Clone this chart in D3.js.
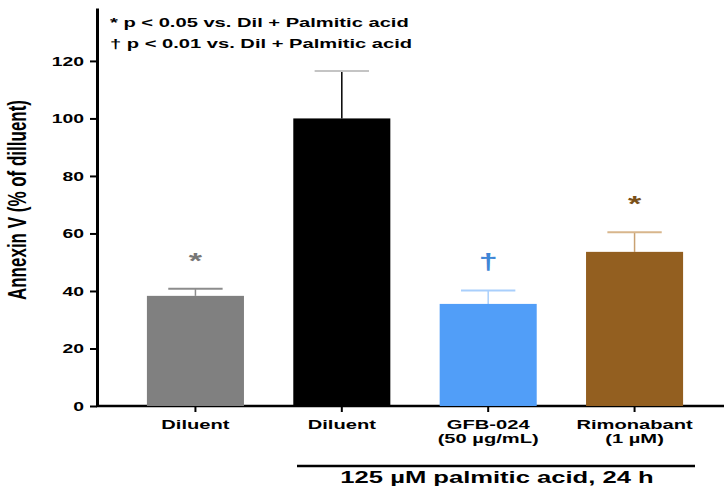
<!DOCTYPE html>
<html>
<head>
<meta charset="utf-8">
<script src="https://cdn.jsdelivr.net/npm/d3@7"></script>
<style>
  body { margin: 0; background: #fff; }
  svg text { font-family: "Liberation Sans", Arial, sans-serif; font-weight: bold; }
</style>
</head>
<body>
<div id="chart"></div>
<script>
// data
var groups = ["Diluent", "Diluent", "GFB-024", "Rimonabant"];
var subLabels = ["", "", "(50 \u00b5g/mL)", "(1 \u00b5M)"];
var means = [38.3, 100, 35.5, 53.6];
var errors = [2.5, 16.5, 4.7, 6.8];
var marks = ["*", "", "\u2020", "*"];
var barColours = ["#808080", "#000000", "#519ef8", "#935f20"];
var errColours = ["#8c8c8c", "#c4c4c4", "#a9cffc", "#d8b68c"];
var stemColours = ["#8c8c8c", "#000000", "#a9cffc", "#c9a172"];
var markColours = ["#767676", "#000000", "#3f86d6", "#7a5018"];
var yTicks = [0, 20, 40, 60, 80, 100, 120];

var W = 724, H = 490;
var K = 1.55; // the figure's text is stretched sideways
var svg = d3.select("#chart").append("svg").attr("width", W).attr("height", H);

var x0 = 97, yZero = 406;
var x = d3.scaleBand().domain(d3.range(groups.length)).range([103, 727]).paddingInner(0.337).paddingOuter(0.3);
var y = d3.scaleLinear().domain([0, 138.4]).range([yZero, 8]);
var cx = function (i) { return x(i) + x.bandwidth() / 2; };

function wideText(px, py, size, str, anchor, k) {
    return svg.append("text")
        .attr("transform", "translate(" + px + "," + py + ") scale(" + (k || K) + ",1)")
        .attr("text-anchor", anchor || "start")
        .attr("font-size", size)
        .text(str);
}

// y axis
var gy = svg.append("g").attr("transform", "translate(" + x0 + ",0)")
    .call(d3.axisLeft(y).tickValues(yTicks).tickSize(7).tickSizeOuter(0));
gy.select(".domain").attr("stroke", "#000").attr("stroke-width", 3);
gy.selectAll(".tick line").attr("stroke", "#000").attr("stroke-width", 2);
gy.selectAll(".tick text").attr("font-size", 12.5).attr("fill", "#000")
    .attr("x", null).attr("dy", "0.36em")
    .attr("transform", "translate(-13,0) scale(" + K + ",1)");

// x axis
svg.append("line").attr("x1", x0 - 1).attr("x2", W).attr("y1", yZero).attr("y2", yZero)
    .attr("stroke", "#000").attr("stroke-width", 2.5);
svg.selectAll(".xtick").data(groups).enter().append("line")
    .attr("x1", function (d, i) { return cx(i); })
    .attr("x2", function (d, i) { return cx(i); })
    .attr("y1", yZero).attr("y2", yZero + 6)
    .attr("stroke", "#000").attr("stroke-width", 2);

// error bars (drawn behind bars)
svg.selectAll(".err").data(means).enter().append("line")
    .attr("x1", function (d, i) { return cx(i); })
    .attr("x2", function (d, i) { return cx(i); })
    .attr("y1", function (d) { return y(d); })
    .attr("y2", function (d, i) { return y(d + errors[i]); })
    .attr("stroke", function (d, i) { return stemColours[i]; })
    .attr("stroke-width", 1.5);
svg.selectAll(".cap").data(means).enter().append("line")
    .attr("x1", function (d, i) { return cx(i) - x.bandwidth() * 0.28; })
    .attr("x2", function (d, i) { return cx(i) + x.bandwidth() * 0.28; })
    .attr("y1", function (d, i) { return y(d + errors[i]); })
    .attr("y2", function (d, i) { return y(d + errors[i]); })
    .attr("stroke", function (d, i) { return errColours[i]; })
    .attr("stroke-width", 2);

// bars
svg.selectAll(".bar").data(means).enter().append("rect")
    .attr("x", function (d, i) { return x(i); })
    .attr("width", x.bandwidth())
    .attr("y", function (d) { return y(d); })
    .attr("height", function (d) { return yZero - y(d); })
    .attr("fill", function (d, i) { return barColours[i]; });

// significance marks
means.forEach(function (d, i) {
    if (!marks[i]) return;
    wideText(cx(i), y(d + errors[i]) - 21, 22, marks[i], "middle")
        .attr("fill", markColours[i]);
});

// category labels
groups.forEach(function (g, i) {
    wideText(cx(i), 429, 13, g, "middle");
    if (subLabels[i]) wideText(cx(i), 443, 13, subLabels[i], "middle");
});

// bracket for the palmitic acid groups
svg.append("line").attr("x1", 297).attr("x2", 695).attr("y1", 466).attr("y2", 466)
    .attr("stroke", "#000").attr("stroke-width", 2.5);
wideText(497, 483, 16, "125 \u00b5M palmitic acid, 24 h", "middle", 1.6);

// y label (rotated, so the stretch goes on its height)
svg.append("text").attr("transform", "translate(26,200) rotate(-90) scale(1," + K + ")")
    .attr("text-anchor", "middle").attr("font-size", 17)
    .text("Annexin V (% of dilluent)");

// legend note
wideText(110, 27, 13, "* p < 0.05 vs. Dil + Palmitic acid");
wideText(110, 48, 13, "\u2020 p < 0.01 vs. Dil + Palmitic acid");
</script>
</body>
</html>
